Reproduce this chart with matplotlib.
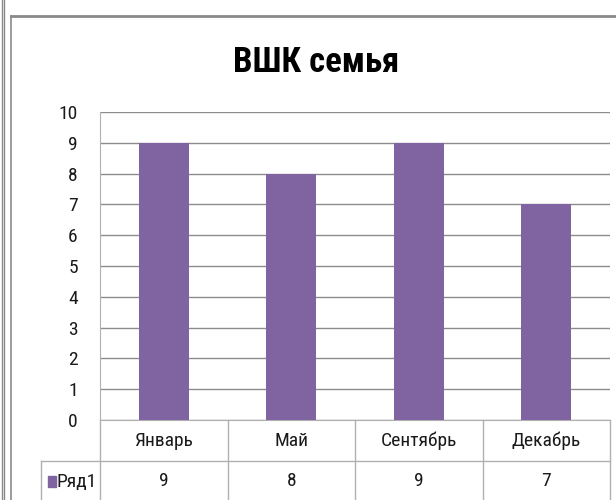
import matplotlib
matplotlib.use("Agg")
import matplotlib.pyplot as plt
from matplotlib.lines import Line2D
from matplotlib.patches import Rectangle
from matplotlib import font_manager
from matplotlib.font_manager import FontProperties

categories = ["Январь", "Май", "Сентябрь", "Декабрь"]
values = [9, 8, 9, 7]
series_name = "Ряд1"
title = "ВШК семья"
yticks = list(range(0, 11))

# look for a narrow font (Calibri-like look)
def find_font(bold=False):
    prefs = ["Liberation Sans Narrow", "Roboto Condensed", "Open Sans Condensed",
             "DejaVu Sans Condensed", "Noto Sans Condensed"]
    cands = []
    for f in font_manager.fontManager.ttflist:
        fn = f.fname.lower()
        is_b = (f.weight in ("bold", 700) or (isinstance(f.weight, int) and f.weight >= 600))
        if is_b != bold or f.style != "normal":
            continue
        if "condensed" in fn or "narrow" in fn or f.stretch in ("condensed", "semi-condensed"):
            if "extra" in fn or "ultra" in fn:
                continue
            cands.append(f)
    def key(f):
        fn = f.fname.lower()
        for i, p in enumerate(prefs):
            if p.lower().replace(" ", "") in fn.replace(" ", "").replace("-", "").replace("_", ""):
                return i
        return 99
    cands.sort(key=key)
    if cands:
        return FontProperties(fname=cands[0].fname)
    return FontProperties(family="Open Sans", weight="bold" if bold else "normal")

fp = find_font(False)
fpb = find_font(True)

W, H = 616, 500
fig = plt.figure(figsize=(W / 100, H / 100), dpi=100)

bar_color = "#8064A2"
grid_color = "#8C8C8C"
table_color = "#B0B0B0"
txt_color = "#1A1A1A"
fs = 14

ax = fig.add_axes([100 / W, (H - 420) / H, 510 / W, 308 / H])
x = list(range(len(categories)))
ax.bar(x, values, width=0.39, color=bar_color, zorder=3)
ax.set_xlim(-0.5, len(categories) - 0.5)
ax.set_ylim(0, 10)
ax.set_yticks(yticks)
ax.set_yticklabels([str(v) for v in yticks])
for lab in ax.get_yticklabels():
    lab.set_fontproperties(fp)
    lab.set_fontsize(fs)
    lab.set_color(txt_color)
ax.tick_params(axis='y', length=0, pad=16)
ax.set_xticks([])
for s in ["top", "right"]:
    ax.spines[s].set_visible(False)
ax.spines["left"].set_color(table_color)
ax.spines["bottom"].set_color(table_color)
ax.yaxis.grid(True, color=grid_color, linewidth=1.0, zorder=0)
ax.set_axisbelow(True)

row_h = 41 / 308
trans = ax.transAxes
def hline(y, x0, x1):
    ax.add_line(Line2D([x0, x1], [y, y], transform=trans, color=table_color,
                       lw=1.0, clip_on=False))
def vline(xa, y0, y1):
    ax.add_line(Line2D([xa, xa], [y0, y1], transform=trans, color=table_color,
                       lw=1.0, clip_on=False))

legend_left = (41 - 100) / 510
hline(-row_h, legend_left, 1.0)
hline(-2 * row_h, legend_left, 1.0)
n = len(categories)
for i in range(n + 1):
    vline(i / n, 0, -2.2 * row_h)
vline(legend_left, -row_h, -2.2 * row_h)

xt = ax.get_xaxis_transform()
for i, (c, v) in enumerate(zip(categories, values)):
    ax.text(i, -0.5 * row_h, c, transform=xt, ha="center", va="center",
            fontproperties=fp, fontsize=fs, color=txt_color)
    ax.text(i, -1.5 * row_h, str(v), transform=xt, ha="center", va="center",
            fontproperties=fp, fontsize=fs, color=txt_color)

kx0 = (48 - 100) / 510
ax.add_patch(Rectangle((kx0, -1.5 * row_h - 5.5 / 308), 7.5 / 510, 11 / 308,
                       transform=trans, color=bar_color, clip_on=False))
ax.text((57 - 100) / 510, -1.5 * row_h, series_name, transform=trans,
        ha="left", va="center", fontproperties=fp, fontsize=fs, color=txt_color)

fig.text(316 / W, 1 - 63 / H, title, ha="center", va="center",
         fontproperties=fpb, fontsize=25, color="black")

frame_c = "#8A8A8A"
for xx in (1.5, 3.5):
    fig.add_artist(Line2D([xx / W, xx / W], [0, 1], transform=fig.transFigure,
                          color=frame_c, lw=1.0))
fig.add_artist(Line2D([11 / W, 11 / W], [0, 1 - 16 / H], transform=fig.transFigure,
                      color=frame_c, lw=1.2))
fig.add_artist(Line2D([11 / W, 1], [1 - 16 / H, 1 - 16 / H], transform=fig.transFigure,
                      color=frame_c, lw=2.0))

fig.savefig("out.png", dpi=100)
